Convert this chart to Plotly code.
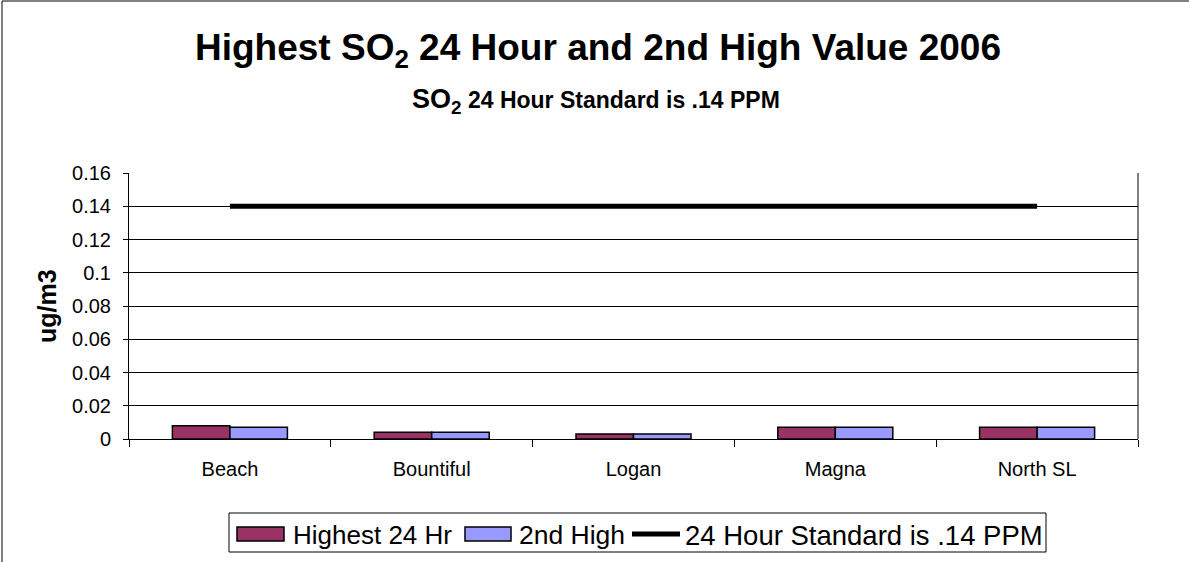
import plotly.graph_objects as go

sites = ["Beach", "Bountiful", "Logan", "Magna", "North SL"]
highest_24hr = [0.008, 0.004, 0.003, 0.007, 0.007]
second_high = [0.007, 0.004, 0.003, 0.007, 0.007]
standard_ppm = [0.14, 0.14, 0.14, 0.14, 0.14]
y_ticks = [0, 0.02, 0.04, 0.06, 0.08, 0.1, 0.12, 0.14, 0.16]
y_tick_text = ["0", "0.02", "0.04", "0.06", "0.08", "0.1", "0.12", "0.14", "0.16"]
series_names = ["Highest 24 Hr", "2nd High", "24 Hour Standard is .14 PPM"]
series_colors = ["#993366", "#9999FF", "black"]

W, H = 1189, 562
L, R, T, B = 129, 51, 173, 123
pw, ph = W - L - R, H - T - B

def px_x(x):
    return (x - L) / pw

def px_y(y):
    return (H - B - y) / ph

FONT = "Liberation Sans, Arial, sans-serif"

fig = go.Figure()
fig.add_trace(go.Bar(
    x=sites, y=highest_24hr, name=series_names[0],
    marker=dict(color=series_colors[0], line=dict(color="black", width=1.5)),
))
fig.add_trace(go.Bar(
    x=sites, y=second_high, name=series_names[1],
    marker=dict(color=series_colors[1], line=dict(color="black", width=1.5)),
))
fig.add_trace(go.Scatter(
    x=sites, y=standard_ppm, name=series_names[2],
    mode="lines", line=dict(color=series_colors[2], width=5),
))

annotations = [
    dict(text="<b>Highest SO<sub>2</sub> 24 Hour and 2nd High Value 2006</b>",
         x=px_x(598), y=px_y(50), xref="paper", yref="paper",
         showarrow=False, font=dict(size=37, family=FONT), yanchor="middle"),
    dict(text="<b><span style='font-size:27px'>SO<sub>2</sub></span> 24 Hour Standard is .14 PPM</b>",
         x=px_x(596), y=px_y(101), xref="paper", yref="paper",
         showarrow=False, font=dict(size=23, family=FONT), yanchor="middle"),
    dict(text="<b>ug/m3</b>", textangle=-90,
         x=px_x(47), y=px_y(306), xref="paper", yref="paper",
         showarrow=False, font=dict(size=25, family=FONT),
         xanchor="center", yanchor="middle"),
]

shapes = [
    # chart frame
    dict(type="rect", xref="paper", yref="paper",
         x0=px_x(2), x1=px_x(1200), y0=px_y(620), y1=px_y(1),
         line=dict(color="black", width=1), layer="below"),
    # plot-area right edge
    dict(type="line", xref="paper", yref="paper",
         x0=1, x1=1, y0=0, y1=1, line=dict(color="black", width=1)),
    # legend box
    dict(type="rect", xref="paper", yref="paper",
         x0=px_x(229), x1=px_x(1046), y0=px_y(552), y1=px_y(513),
         line=dict(color="black", width=1), fillcolor="white"),
]

# legend entries: swatch span, text start, text size
legend_cy = 534
swatch_x = [(237, 284), (465, 511), (632, 680)]
label_x = [291, 517, 683]
label_size = [26, 26.5, 27.5]
for i, name in enumerate(series_names):
    x0, x1 = swatch_x[i]
    if i < 2:
        shapes.append(dict(type="rect", xref="paper", yref="paper",
                           x0=px_x(x0), x1=px_x(x1),
                           y0=px_y(541), y1=px_y(527),
                           fillcolor=series_colors[i],
                           line=dict(color="black", width=1.5)))
    else:
        shapes.append(dict(type="line", xref="paper", yref="paper",
                           x0=px_x(x0), x1=px_x(x1),
                           y0=px_y(legend_cy), y1=px_y(legend_cy),
                           line=dict(color=series_colors[i], width=5)))
    annotations.append(dict(text=name, x=px_x(label_x[i]), y=px_y(legend_cy + 1),
                            xref="paper", yref="paper", showarrow=False,
                            xanchor="left", yanchor="middle",
                            font=dict(size=label_size[i], family=FONT)))

fig.update_layout(
    width=W, height=H,
    margin=dict(l=L, r=R, t=T, b=B, pad=0),
    paper_bgcolor="white", plot_bgcolor="white",
    barmode="group", bargap=0.43, bargroupgap=0,
    font=dict(family=FONT, color="black"),
    showlegend=False,
    annotations=annotations,
    shapes=shapes,
)

fig.update_xaxes(
    type="category", showline=True, linecolor="black", linewidth=1,
    ticks="outside", tickson="boundaries", ticklen=7, tickcolor="black",
    tickfont=dict(size=20, family=FONT), showgrid=False,
    ticklabelstandoff=12,
)
fig.update_yaxes(
    range=[0, 0.16], tickvals=y_ticks, ticktext=y_tick_text,
    showline=True, linecolor="black", linewidth=1,
    ticks="outside", ticklen=5, tickcolor="black",
    tickfont=dict(size=20, family=FONT), ticklabelstandoff=8,
    showgrid=True, gridcolor="black", gridwidth=1, zeroline=False,
)

fig.write_html("out.html")
